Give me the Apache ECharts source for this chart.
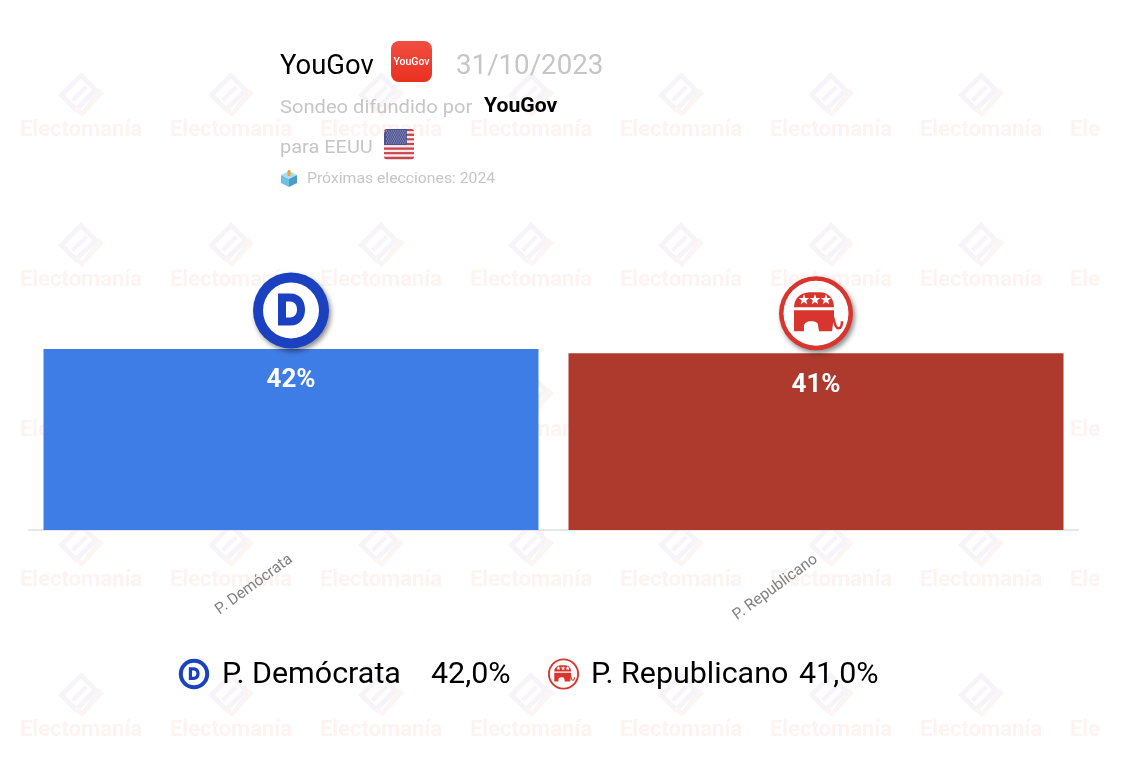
<!DOCTYPE html>
<html><head><meta charset="utf-8">
<style>html,body{margin:0;padding:0;background:#fff}#c{width:1132px;height:776px}</style>
<script src="https://cdn.jsdelivr.net/npm/echarts@6/dist/echarts.min.js"></script></head>
<body><div id="c"></div>
<script>
const categories = ['P. Demócrata', 'P. Republicano'];
const values = [42, 41];
const barColors = ['#3f7de6', '#ae392d'];
const pollster = 'YouGov';
const pollDate = '31/10/2023';
const subtitle = 'Sondeo difundido por';
const region = 'para EEUU';
const nextElection = 'Próximas elecciones: 2024';
const watermark = 'Electomanía';

const chart = echarts.init(document.getElementById('c'), null, {renderer: 'canvas'});
const FONT = 'Roboto';
const BLUE = '#1c41c0', RED = '#d8352f';

function star(cx, cy, r) {
  const p = [];
  for (let i = 0; i < 10; i++) {
    const a = -Math.PI / 2 + i * Math.PI / 5, q = i % 2 ? r * 0.42 : r;
    p.push([cx + q * Math.cos(a), cy + q * Math.sin(a)]);
  }
  return p;
}
function iconChildren(idx, shadow) {
  const sh = shadow ? {shadowBlur: 5, shadowOffsetX: 2, shadowOffsetY: 3, shadowColor: 'rgba(0,0,0,0.45)'} : {};
  if (idx === 0) {
    return [
      {type: 'circle', shape: {cx: 0, cy: 0, r: 38}, style: Object.assign({fill: BLUE}, sh)},
      {type: 'circle', shape: {cx: 0, cy: 0, r: 28}, style: {fill: '#fff'}},
      {type: 'path', shape: {pathData: 'M-13 -17 L-1 -17 C10 -17 14 -9 14 -1 C14 7 10 15 -1 15 L-13 15 Z M-5 -9 L-5 7 L-1 7 C4 7 6 3 6 -1 C6 -5 4 -9 -1 -9 Z'}, style: {fill: BLUE}}
    ];
  }
  return [
    {type: 'circle', shape: {cx: 0, cy: 0, r: 37}, style: Object.assign({fill: RED}, sh)},
    {type: 'circle', shape: {cx: 0, cy: 0, r: 32.5}, style: {fill: '#fff'}},
    {type: 'path', shape: {pathData: 'M-22 -6 C-22 -16 -14 -21 -6 -21 L4 -21 C13 -21 18 -14 18 -6 Z'}, style: {fill: RED}},
    {type: 'path', shape: {pathData: 'M-22 -3 L18 -3 L18 3 L16 18 L3 18 L2 12 C2 9 -1 8 -5 8 C-9 8 -12 10 -12 13 L-12 18 L-22 18 Z'}, style: {fill: RED}},
    {type: 'path', shape: {pathData: 'M16 2 C19 6 18 14 22 15 C25 15.5 26 12 26 8'}, style: {fill: 'none', stroke: RED, lineWidth: 2.5}},
    {type: 'polygon', shape: {points: star(-12, -13.5, 5.5)}, style: {fill: '#fff'}},
    {type: 'polygon', shape: {points: star(-1, -13.5, 5.5)}, style: {fill: '#fff'}},
    {type: 'polygon', shape: {points: star(10, -13.5, 5.5)}, style: {fill: '#fff'}}
  ];
}

/* ---------- watermark ---------- */
const wm = [];
for (let col = 0; col < 8; col++) {
  for (let row = 0; row < 5; row++) {
    const children = [
      {type: 'text', style: {text: watermark, x: 0, y: 2, align: 'center', verticalAlign: 'middle',
        font: 'bold 22px ' + FONT, fill: '#fdf3f0'}}
    ];
    if (col < 7) {
      children.unshift(
        {type: 'polygon', shape: {points: [[0, -56], [18, -38], [-5, -15], [-23, -33]]}, style: {fill: '#f7f4f9'}},
        {type: 'polygon', shape: {points: [[0, -49], [11, -38], [-5, -22], [-16, -33]]}, style: {fill: '#fff'}},
        {type: 'polygon', shape: {points: [[4, -43], [7, -40], [-7, -26], [-10, -29]]}, style: {fill: '#f7f4f9'}},
        {type: 'polygon', shape: {points: [[18, -40], [23, -35], [1, -11], [-7, -18], [-4, -22], [1, -17]]}, style: {fill: '#fbf5f3'}}
      );
    }
    wm.push({type: 'group', x: 81 + 150 * col, y: 128 + 150 * row, z: -2, silent: true, children: children.map(c => Object.assign(c, {z: -2}))});
  }
}
wm.push({type: 'rect', shape: {x: 1100, y: 0, width: 32, height: 776}, style: {fill: '#fff'}, z: -1, silent: true});

/* ---------- header ---------- */
const flag = [];
for (let i = 0; i < 13; i++) {
  const h = 30 / 13;
  flag.push({type: 'rect', shape: {x: 384, y: 129 + i * h, width: 30, height: h + 0.2, r: i === 0 ? [5, 5, 0, 0] : i === 12 ? [0, 0, 5, 5] : 0},
    style: {fill: i % 2 ? '#f6eaea' : '#c8464b'}, z: 5, silent: true});
}
flag.push({type: 'rect', shape: {x: 384, y: 129, width: 23, height: 16, r: [5, 0, 0, 0]}, style: {fill: '#4c5290'}, z: 6, silent: true});
for (let r = 0; r < 7; r++) for (let c = 0; c < 9; c++) {
  flag.push({type: 'rect', shape: {x: 386 + c * 2.3 + (r % 2) * 1.1, y: 130.5 + r * 2, width: 1, height: 1}, style: {fill: '#b9bcd8'}, z: 7, silent: true});
}
const txt = (text, x, y, font, fill, sx) => ({type: 'text', z: 10, silent: true, x, y, scaleX: sx || 1,
  style: {text, x: 0, y: 0, font, fill, verticalAlign: 'middle', align: 'left'}});
const header = [
  txt(pollster, 280, 67, '27px ' + FONT, '#000', 1.015),
  {type: 'rect', z: 5, silent: true, shape: {x: 391, y: 41, width: 41, height: 41, r: 8},
    style: {fill: new echarts.graphic.LinearGradient(0, 0, 0, 1, [{offset: 0, color: '#f04f42'}, {offset: 1, color: '#e9301f'}])}},
  {type: 'text', z: 6, silent: true, style: {text: pollster, x: 411.5, y: 62, align: 'center', verticalAlign: 'middle', font: '500 10.5px ' + FONT, fill: '#fff'}},
  txt(pollDate, 456, 67, '27.5px ' + FONT, '#c6c6c6', 1.007),
  txt(subtitle, 280, 108, '19px ' + FONT, '#c6c6c6', 1.06),
  txt(pollster, 484, 107, 'bold 20px ' + FONT, '#000', 1.06),
  txt(region, 280, 148, '19px ' + FONT, '#c6c6c6', 1.05),
  txt(nextElection, 307, 179, '15px ' + FONT, '#c6c6c6', 1.05),
  {type: 'polygon', z: 5, silent: true, shape: {points: [[281, 175], [289, 171], [297, 175], [289, 179]]}, style: {fill: '#a8dcef'}},
  {type: 'polygon', z: 5, silent: true, shape: {points: [[281, 175], [289, 179], [289, 187], [281, 183]]}, style: {fill: '#6fbfe0'}},
  {type: 'polygon', z: 5, silent: true, shape: {points: [[297, 175], [289, 179], [289, 187], [297, 183]]}, style: {fill: '#4b9dc9'}},
  {type: 'rect', z: 6, silent: true, shape: {x: 287.5, y: 170, width: 3, height: 6, r: 1}, style: {fill: '#f0a23c'}}
].concat(flag);

/* ---------- legend text ---------- */
const fmt = v => v.toFixed(1).replace('.', ',') + '%';
const legendText = [
  txt(categories[0], 222, 676, '29px ' + FONT, '#000', 1.05),
  txt(fmt(values[0]), 431, 676, '29px ' + FONT, '#000', 1.05),
  txt(categories[1], 591, 676, '29px ' + FONT, '#000', 1.05),
  txt(fmt(values[1]), 799, 676, '29px ' + FONT, '#000', 1.05)
];

chart.setOption({
  animation: false,
  grid: {left: 28.5, width: 1050, top: 314.5, height: 215.5, containLabel: false},
  xAxis: {type: 'category', data: categories,
    axisLine: {lineStyle: {color: '#dfdfdf', width: 1.5}}, axisTick: {show: false},
    axisLabel: {rotate: 36, color: '#808080', fontFamily: FONT, fontSize: 15.5, margin: 28, interval: 0}},
  yAxis: {type: 'value', min: 0, max: 50, show: false, splitLine: {show: false}},
  graphic: {elements: wm.concat(header, legendText)},
  series: [
    {type: 'bar', data: values.map((v, i) => ({value: v, itemStyle: {color: barColors[i]}})), barWidth: 495, z: 2,
      label: {show: true, position: 'insideTop', distance: 19, formatter: p => p.value + '%',
        color: '#fff', fontFamily: FONT, fontWeight: 'bold', fontSize: 26}},
    {type: 'custom', z: 4, silent: true, clip: false, data: values.map((v, i) => [i, v]),
      renderItem: (params, api) => {
        const p = api.coord([api.value(0), api.value(1)]);
        const i = params.dataIndex;
        return {type: 'group', x: p[0], y: p[1] - (i === 0 ? 38.5 : 40), children: iconChildren(i, true)};
      }},
    {type: 'custom', coordinateSystem: 'none', z: 4, silent: true, clip: false, data: values.map((v, i) => [i]),
      renderItem: (params) => {
        const i = params.dataIndex;
        const s = i === 0 ? 0.4 : 0.42;
        return {type: 'group', x: i === 0 ? 194 : 563.5, y: 674, scaleX: s, scaleY: s, children: iconChildren(i, false)};
      }}
  ]
});
</script></body></html>
